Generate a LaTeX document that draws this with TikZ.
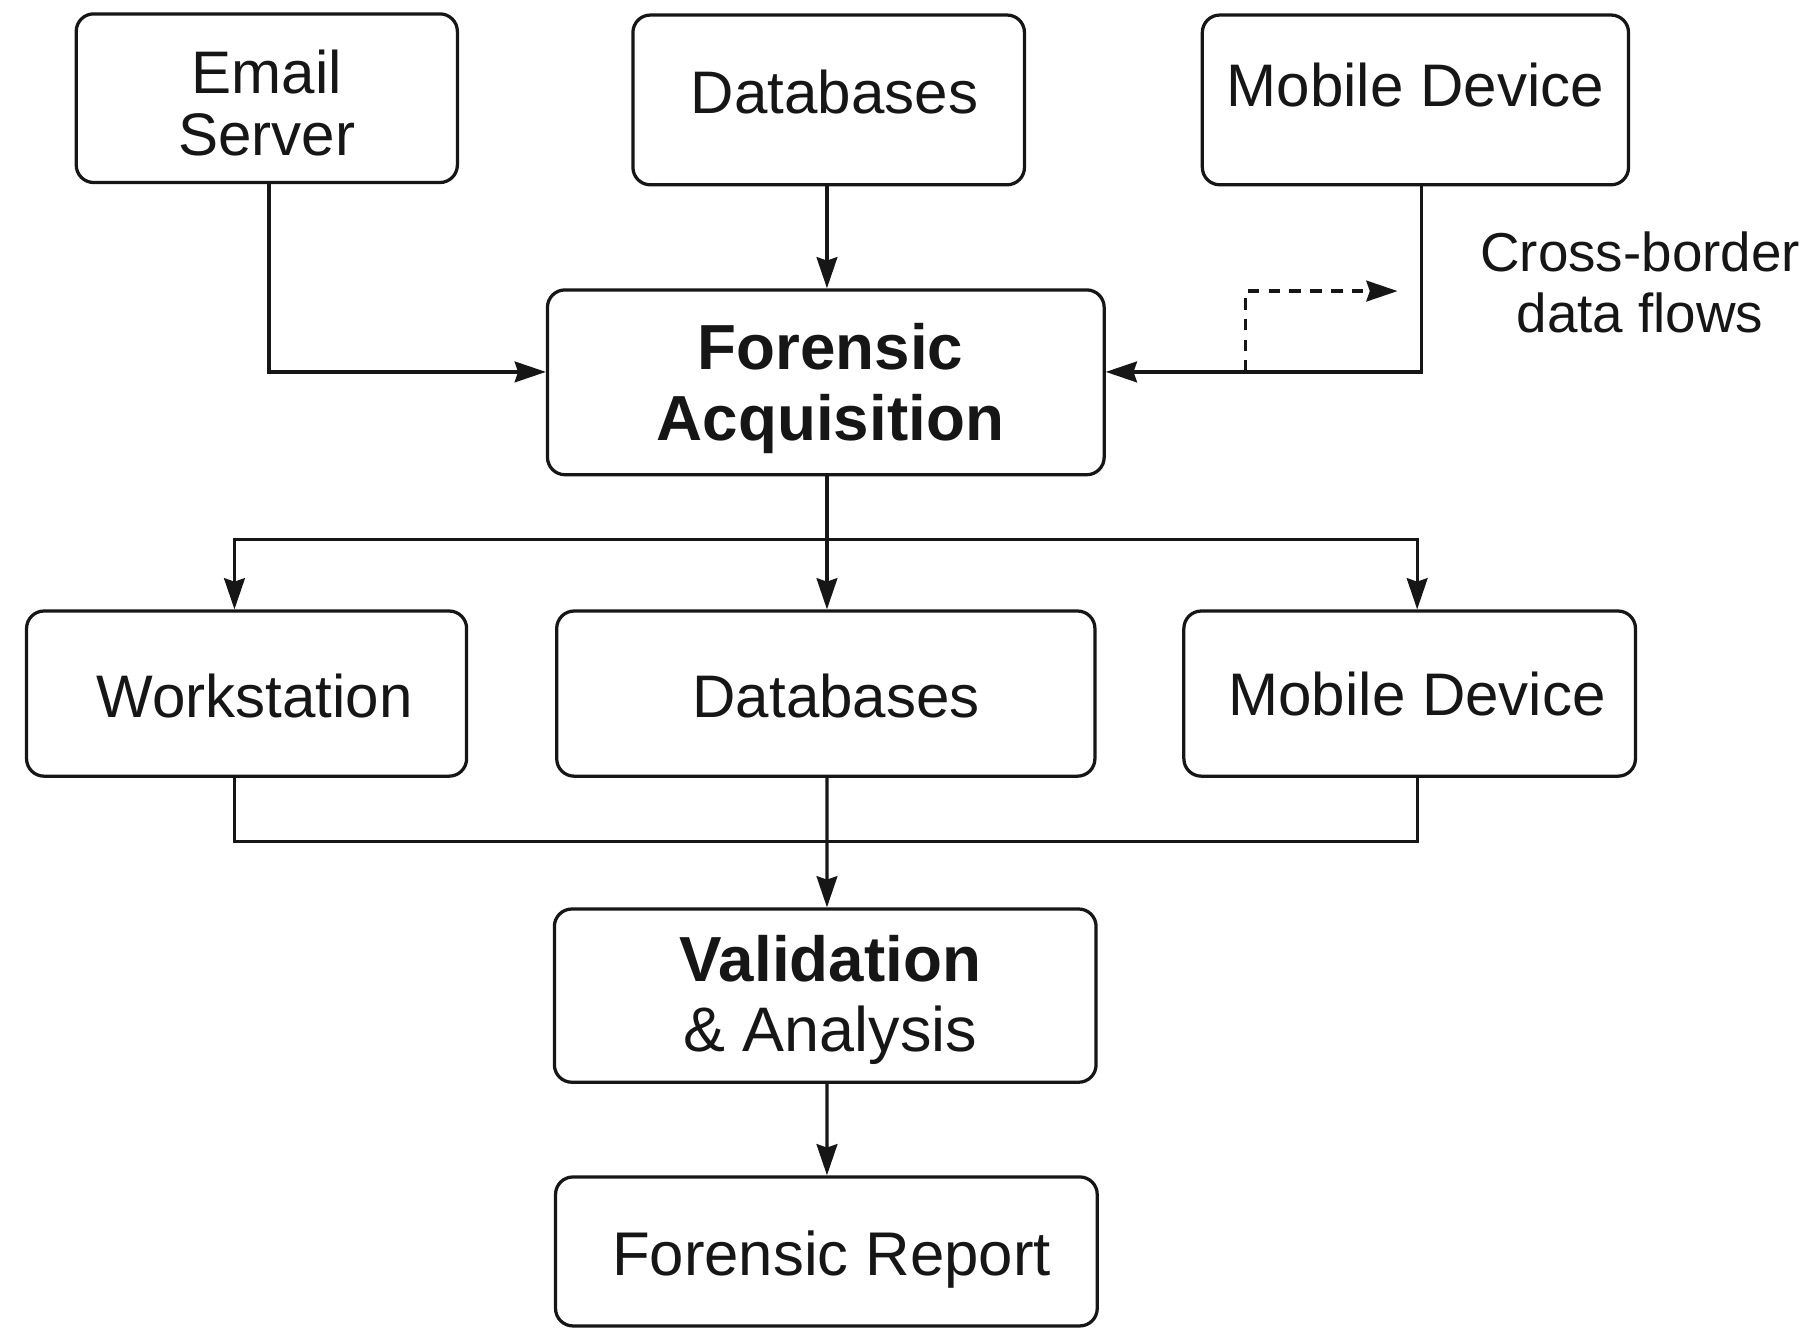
\documentclass[tikz,border=0pt]{standalone}
\usepackage{fontspec}
\setmainfont{Liberation Sans}
\usepackage{xcolor}
\usepackage{tikz}
\usetikzlibrary{calc,arrows.meta}
\definecolor{ink}{HTML}{161616}
% move a node text right (#1 is twice the shift) and up (#2) inside its box
\newcommand{\nudge}[3]{\hspace*{#1}\raisebox{#2}[\height][\depth]{\begin{tabular}{@{}c@{}}#3\end{tabular}}}
\tikzset{
  box/.style={draw=ink, line width=0.8pt, rounded corners=4.3pt, align=center, inner sep=0pt,
    text=ink, font=\fontsize{14.8}{15.3}\selectfont},
  boxb/.style={box, font=\fontsize{15.7}{17.3}\selectfont\bfseries},
  line/.style={draw=ink, line width=0.8pt},
  arr/.style={line, -{Stealth[length=2.7mm,width=1.8mm,inset=0.3mm]}},
  flow/.style={arr, dashed, dash pattern=on 1mm off 0.8mm},
  lab/.style={text=ink, align=center, font=\fontsize{13.5}{15}\selectfont},
}

\begin{document}
\begin{tikzpicture}
  \useasboundingbox (0,0) rectangle (15.68,-11.62);

  % sources
  \node[box, minimum width=3.30cm, minimum height=1.46cm] (email)  at ( 2.31,-0.85)
    {\nudge{0cm}{-0.12cm}{Email\\Server}};
  \node[box, minimum width=3.39cm, minimum height=1.47cm] (dbtop)  at ( 7.175,-0.865)
    {\nudge{0.1cm}{-0.01cm}{Databases}};
  \node[box, minimum width=3.69cm, minimum height=1.47cm] (mobtop) at (12.255,-0.865)
    {\nudge{0cm}{0.05cm}{Mobile Device}};

  % acquisition
  \node[boxb, minimum width=4.82cm, minimum height=1.60cm] (acq) at (7.15,-3.31)
    {\nudge{0.08cm}{-0.075cm}{Forensic\\Acquisition}};

  % targets
  \node[box, minimum width=3.81cm, minimum height=1.43cm] (work)   at ( 2.135,-6.005)
    {\nudge{0.14cm}{-0.10cm}{Workstation}};
  \node[box, minimum width=4.66cm, minimum height=1.43cm] (dbmid)  at ( 7.15,-6.005)
    {\nudge{0.18cm}{-0.10cm}{Databases}};
  \node[box, minimum width=3.91cm, minimum height=1.43cm] (mobmid) at (12.205,-6.005)
    {\nudge{0.13cm}{-0.08cm}{Mobile Device}};

  % validation and report
  \node[box, minimum width=4.69cm, minimum height=1.50cm, font=\fontsize{15.5}{17.3}\selectfont] (valid)
    at (7.145,-8.62) {\nudge{0.09cm}{-0.06cm}{{\fontsize{15.7}{17.3}\selectfont\bfseries Validation}\\\& Analysis}};
  \node[box, minimum width=4.69cm, minimum height=1.29cm, font=\fontsize{15.2}{17}\selectfont] (report)
    at (7.155,-10.835) {\nudge{0.09cm}{-0.09cm}{Forensic Report}};

  \node[lab] (flowlab) at (14.2,-2.445) {Cross-border\\data flows};

  % inputs to acquisition
  \draw[arr] ([xshift=0.2mm]email.south) |- ($(acq.west)+(0,0.09)$);
  \draw[arr] ([xshift=0.1mm]acq.north |- dbtop.south) -- ([xshift=0.1mm]acq.north);
  \draw[arr] ([xshift=0.5mm]mobtop.south) |- ($(acq.east)+(0,0.09)$);
  \coordinate (flowstart) at ($(acq.east)+(1.21,0.09)$);
  \coordinate (flowend) at (12.10,-2.52);
  \draw[flow] (flowstart) |- (flowend);

  % split
  \coordinate (split) at ($(acq.south)+(0.1mm,-0.55)$);
  \draw[line] ([xshift=0.1mm]acq.south) -- (split);
  \draw[arr] (split) -| ([xshift=-1.05mm]work.north);
  \draw[arr] (split) -- (split |- dbmid.north);
  \draw[arr] (split) -| ([xshift=0.65mm]mobmid.north);

  % merge
  \draw[line] ([xshift=-1.05mm]work.south) -- ++(0,-0.55) -| ([xshift=0.65mm]mobmid.south);
  \draw[arr] ([xshift=0.1mm]dbmid.south) -- ([xshift=0.15mm]valid.north);
  \draw[arr] ([xshift=0.15mm]valid.south) -- ([xshift=0.05mm]report.north);
\end{tikzpicture}
\end{document}
